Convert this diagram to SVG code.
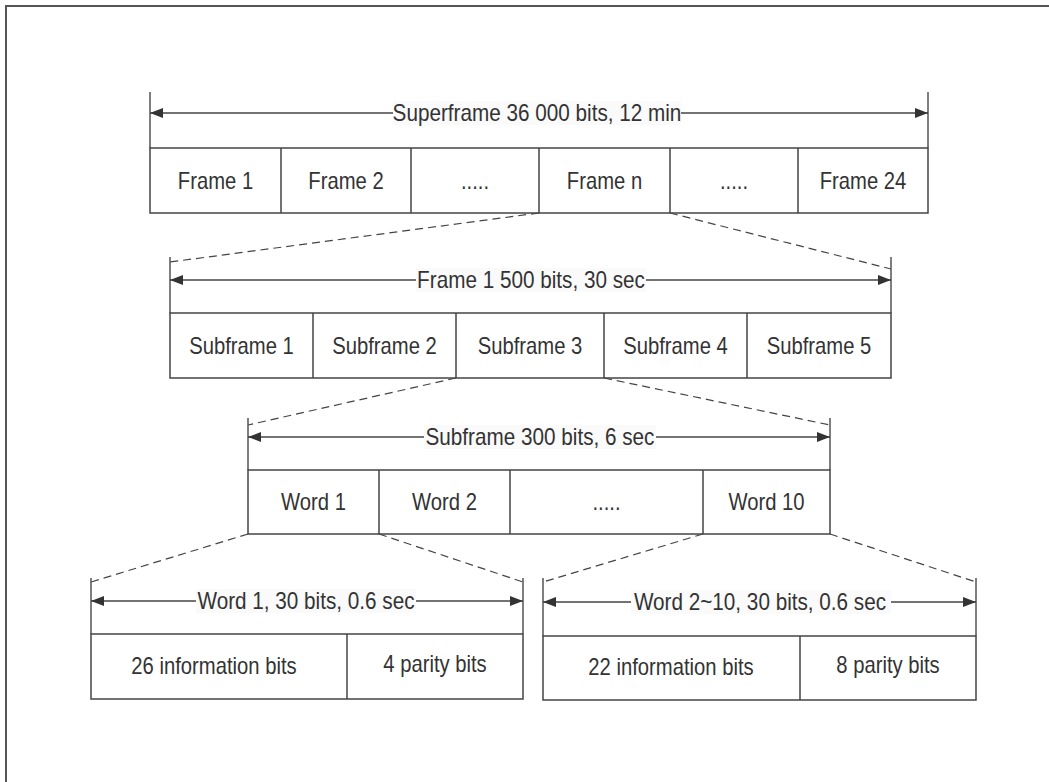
<svg xmlns="http://www.w3.org/2000/svg" width="1049" height="782" viewBox="0 0 1049 782">
<style>
.t{font-family:"Liberation Sans",Arial,sans-serif;font-size:23px;fill:#333;text-anchor:middle}
.box{fill:none;stroke:#444;stroke-width:1.5}
.tick{stroke:#555;stroke-width:1.5}
.dim{stroke:#444;stroke-width:1.5;marker-start:url(#ah);marker-end:url(#ah)}
.dash{stroke:#444;stroke-width:1.2;stroke-dasharray:8 5;fill:none}
.bg{fill:#fafafa}
</style>
<defs>
<marker id="ah" markerUnits="userSpaceOnUse" markerWidth="14" markerHeight="12" refX="13" refY="6" orient="auto-start-reverse">
<path d="M0,1 L13,6 L0,11 z" fill="#333"/>
</marker>
</defs>
<rect x="6" y="6" width="1100" height="820" fill="none" stroke="#555" stroke-width="2"/>

<g id="connectors">
<path class="dash" d="M539,213 L170,262"/>
<path class="dash" d="M670,213 L891,269"/>
<path class="dash" d="M456,378 L248,425"/>
<path class="dash" d="M604,378 L830,425"/>
<path class="dash" d="M248,534 L91,582"/>
<path class="dash" d="M379,534 L523,582"/>
<path class="dash" d="M703,534 L543,582"/>
<path class="dash" d="M830,534 L976,582"/>
</g>

<g id="superframe">
<line class="tick" x1="150" y1="92" x2="150" y2="148"/>
<line class="tick" x1="928" y1="92" x2="928" y2="148"/>
<line class="dim" x1="150" y1="113" x2="928" y2="113"/>
<rect class="bg" x="393" y="101" width="288" height="24"/>
<text class="t" transform="translate(537,121) scale(0.9,1)">Superframe 36 000 bits, 12 min</text>
<rect class="box" x="150" y="148" width="778" height="65"/>
<path class="box" d="M281,148V213M411,148V213M539,148V213M670,148V213M798,148V213"/>
<text class="t" transform="translate(215.5,189) scale(0.88,1)">Frame 1</text>
<text class="t" transform="translate(346,189) scale(0.88,1)">Frame 2</text>
<text class="t" transform="translate(475,189) scale(0.88,1)">.....</text>
<text class="t" transform="translate(604.5,189) scale(0.88,1)">Frame n</text>
<text class="t" transform="translate(734,189) scale(0.88,1)">.....</text>
<text class="t" transform="translate(863,189) scale(0.88,1)">Frame 24</text>
</g>

<g id="frame">
<line class="tick" x1="170" y1="257" x2="170" y2="313"/>
<line class="tick" x1="891" y1="257" x2="891" y2="313"/>
<line class="dim" x1="170" y1="280" x2="891" y2="280"/>
<rect class="bg" x="416" y="268" width="230" height="24"/>
<text class="t" transform="translate(531,288) scale(0.9,1)">Frame 1 500 bits, 30 sec</text>
<rect class="box" x="170" y="313" width="721" height="65"/>
<path class="box" d="M313,313V378M456,313V378M604,313V378M747,313V378"/>
<text class="t" transform="translate(241.5,354) scale(0.88,1)">Subframe 1</text>
<text class="t" transform="translate(384.5,354) scale(0.88,1)">Subframe 2</text>
<text class="t" transform="translate(530,354) scale(0.88,1)">Subframe 3</text>
<text class="t" transform="translate(675.5,354) scale(0.88,1)">Subframe 4</text>
<text class="t" transform="translate(819,354) scale(0.88,1)">Subframe 5</text>
</g>

<g id="subframe">
<line class="tick" x1="248" y1="418" x2="248" y2="470"/>
<line class="tick" x1="830" y1="418" x2="830" y2="470"/>
<line class="dim" x1="248" y1="437" x2="830" y2="437"/>
<rect class="bg" x="424" y="425" width="232" height="24"/>
<text class="t" transform="translate(540,445) scale(0.9,1)">Subframe 300 bits, 6 sec</text>
<rect class="box" x="248" y="470" width="582" height="64"/>
<path class="box" d="M379,470V534M510,470V534M703,470V534"/>
<text class="t" transform="translate(313.5,510) scale(0.88,1)">Word 1</text>
<text class="t" transform="translate(444.5,510) scale(0.88,1)">Word 2</text>
<text class="t" transform="translate(606.5,510) scale(0.88,1)">.....</text>
<text class="t" transform="translate(766.5,510) scale(0.88,1)">Word 10</text>
</g>

<g id="word1">
<line class="tick" x1="91" y1="578" x2="91" y2="634"/>
<line class="tick" x1="523" y1="578" x2="523" y2="634"/>
<line class="dim" x1="91" y1="601" x2="523" y2="601"/>
<rect class="bg" x="196" y="589" width="220" height="24"/>
<text class="t" transform="translate(306,609) scale(0.9,1)">Word 1, 30 bits, 0.6 sec</text>
<rect class="box" x="91" y="634" width="432" height="65"/>
<path class="box" d="M347,634V699"/>
<text class="t" transform="translate(214,674) scale(0.88,1)">26 information bits</text>
<text class="t" transform="translate(435,672) scale(0.88,1)">4 parity bits</text>
</g>

<g id="word2to10">
<line class="tick" x1="543" y1="578" x2="543" y2="636"/>
<line class="tick" x1="976" y1="578" x2="976" y2="636"/>
<line class="dim" x1="543" y1="602" x2="976" y2="602"/>
<rect class="bg" x="631" y="590" width="260" height="24"/>
<text class="t" transform="translate(760,610) scale(0.9,1)">Word 2~10, 30 bits, 0.6 sec</text>
<rect class="box" x="543" y="636" width="433" height="64"/>
<path class="box" d="M800,636V700"/>
<text class="t" transform="translate(671,675) scale(0.88,1)">22 information bits</text>
<text class="t" transform="translate(888,673) scale(0.88,1)">8 parity bits</text>
</g>
</svg>
